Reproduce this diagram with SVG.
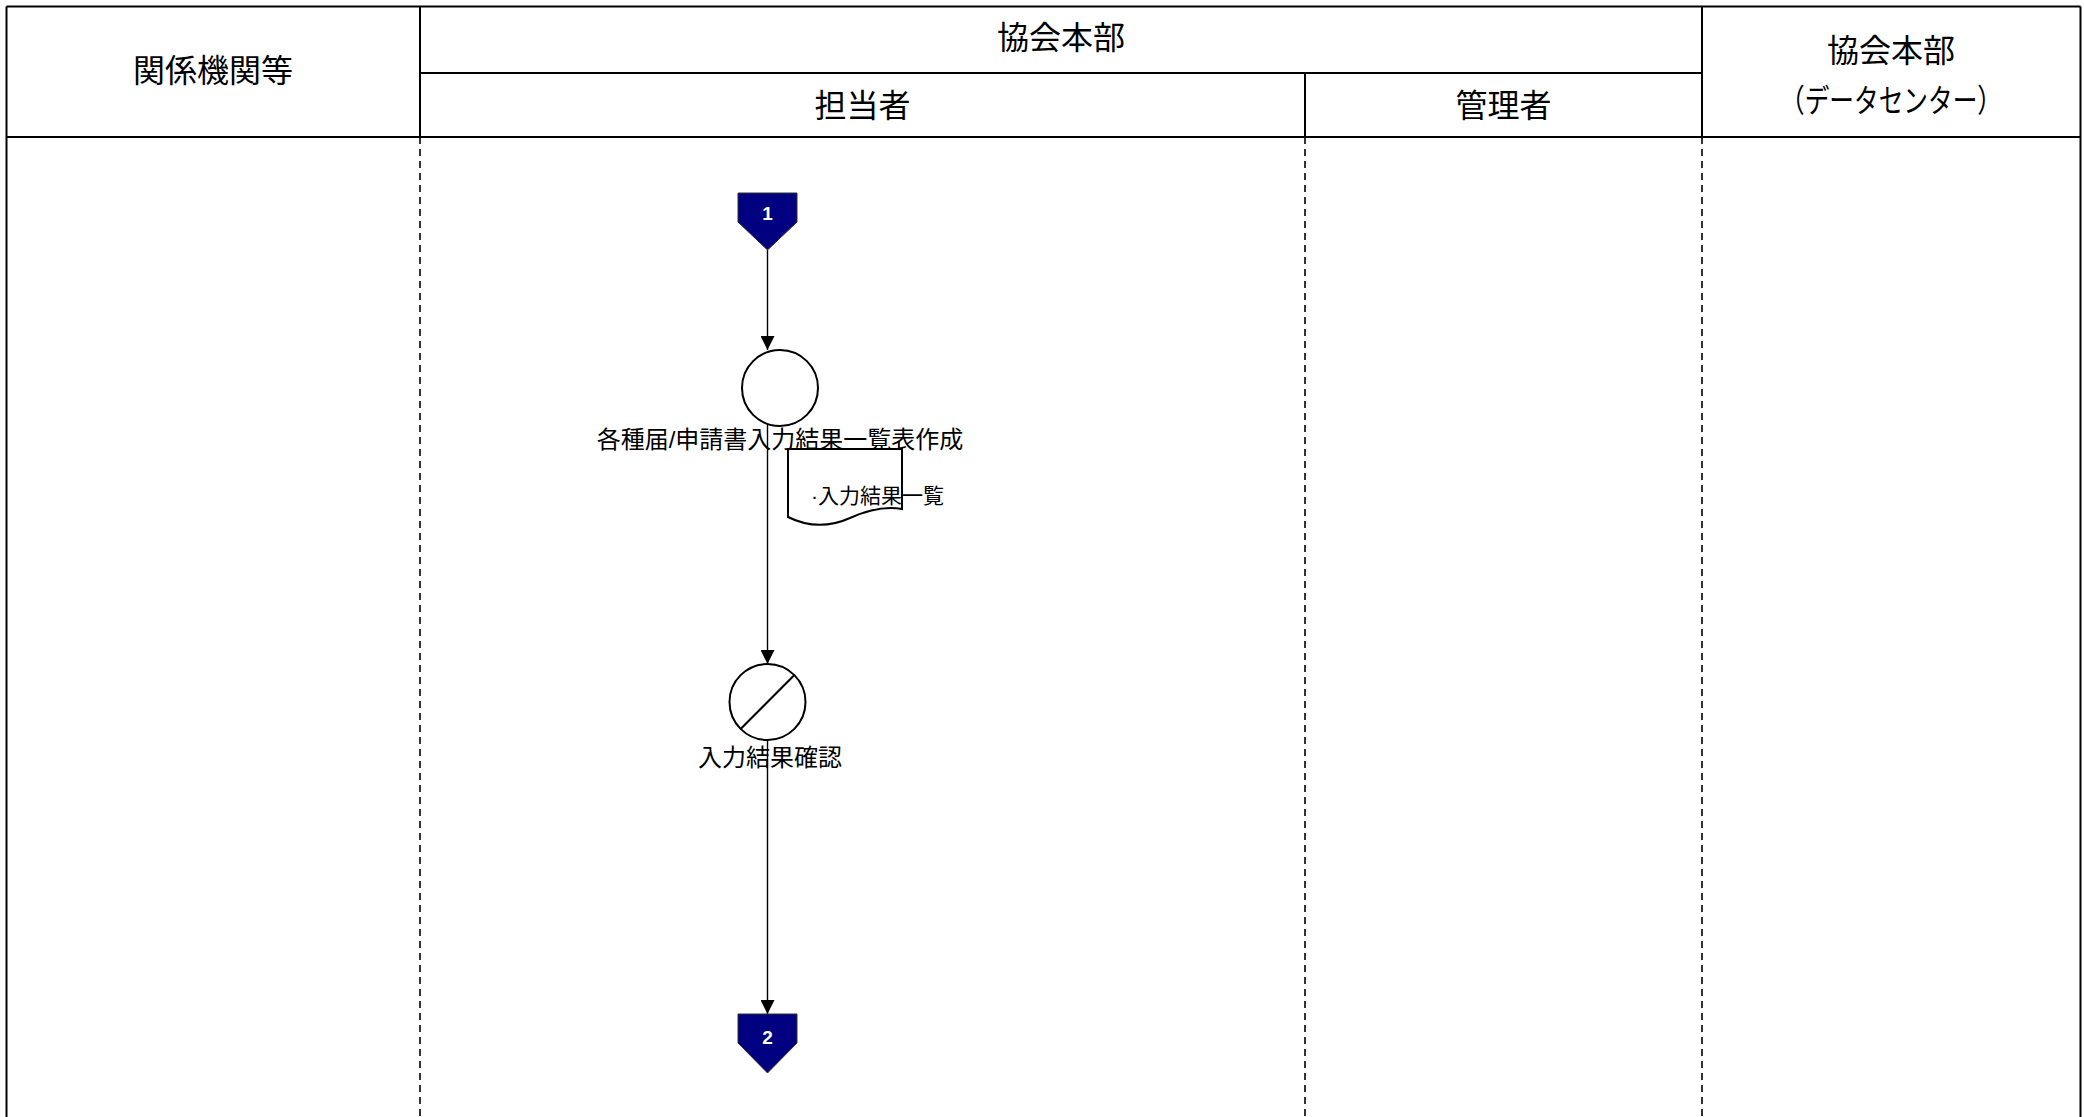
<svg xmlns="http://www.w3.org/2000/svg" width="2084" height="1117" viewBox="0 0 2084 1117">
<style>
.t{font-family:"Liberation Sans","Noto Sans CJK JP",sans-serif;fill:#000}
.h{font-size:32px;text-anchor:middle}
.lbl{font-size:24px;text-anchor:middle}
.doc{font-size:21px}
.num{font-family:"Liberation Sans",Arial,sans-serif;font-size:19px;font-weight:bold;fill:#fff;text-anchor:middle}
.solid{stroke:#000;stroke-width:2;fill:none}
.dash{stroke:#000;stroke-width:1.6;stroke-dasharray:7,5;fill:none}
.shape{stroke:#000;stroke-width:2;fill:#fff}
.off{fill:#000080;stroke:#333;stroke-width:1}
.conn{stroke:#000;stroke-width:1.4;fill:none}
</style>
<defs>
<marker id="arr" viewBox="0 0 14 14" refX="14" refY="7" markerWidth="14" markerHeight="14" markerUnits="userSpaceOnUse" orient="auto">
<path d="M0,0 L14,7 L0,14 z" fill="#000"/>
</marker>
</defs>
<rect width="2084" height="1117" fill="#fff"/>
<g id="lanes">
<line class="solid" x1="6.5" y1="6.5" x2="2080.5" y2="6.5"/>
<line class="solid" x1="6.5" y1="6.5" x2="6.5" y2="1117"/>
<line class="solid" x1="2080.5" y1="6.5" x2="2080.5" y2="1117"/>
<line class="solid" x1="6.5" y1="137" x2="2080.5" y2="137"/>
<line class="solid" x1="420" y1="73" x2="1702" y2="73"/>
<line class="solid" x1="420" y1="6.5" x2="420" y2="137"/>
<line class="solid" x1="1702" y1="6.5" x2="1702" y2="137"/>
<line class="solid" x1="1305" y1="73" x2="1305" y2="137"/>
<line class="dash" x1="420" y1="137" x2="420" y2="1117"/>
<line class="dash" x1="1305" y1="137" x2="1305" y2="1117"/>
<line class="dash" x1="1702" y1="137" x2="1702" y2="1117"/>
<text class="t h" x="213" y="81.5">関係機関等</text>
<text class="t h" x="1061" y="49">協会本部</text>
<text class="t h" x="862.5" y="116.5">担当者</text>
<text class="t h" x="1503.5" y="116.5">管理者</text>
<text class="t h" x="1891" y="61.5">協会本部</text>
<text class="t h" x="1891" y="111.5" textLength="222" lengthAdjust="spacingAndGlyphs">（データセンター）</text>
</g>
<g id="connectors">
<line class="conn" x1="767.5" y1="250" x2="767.5" y2="350" marker-end="url(#arr)"/>
<line class="conn" x1="767.5" y1="424" x2="767.5" y2="664" marker-end="url(#arr)"/>
<line class="conn" x1="767.5" y1="740" x2="767.5" y2="1014" marker-end="url(#arr)"/>
</g>
<g id="start1">
<polygon class="off" points="738,193 797,193 797,222 767.5,250 738,222"/>
<text class="num" x="767.5" y="220">1</text>
</g>
<g id="process1">
<circle class="shape" cx="780" cy="388" r="38"/>
<text class="t lbl" x="780" y="448">各種届/申請書入力結果一覧表作成</text>
</g>
<g id="document1">
<path class="shape" d="M788,449 L902,449 L902,509 C885,506 868,510 850,518 C830,527 808,527 788,517 Z"/>
<text class="t doc" x="811" y="502.5">·入力結果一覧</text>
</g>
<g id="check1">
<circle class="shape" cx="767.5" cy="702" r="38"/>
<line class="solid" x1="740.6" y1="729" x2="794.4" y2="675"/>
<text class="t lbl" x="770" y="765.5">入力結果確認</text>
</g>
<g id="end2">
<polygon class="off" points="738,1014 797,1014 797,1043 767.5,1073 738,1043"/>
<text class="num" x="767.5" y="1043.5">2</text>
</g>
</svg>
